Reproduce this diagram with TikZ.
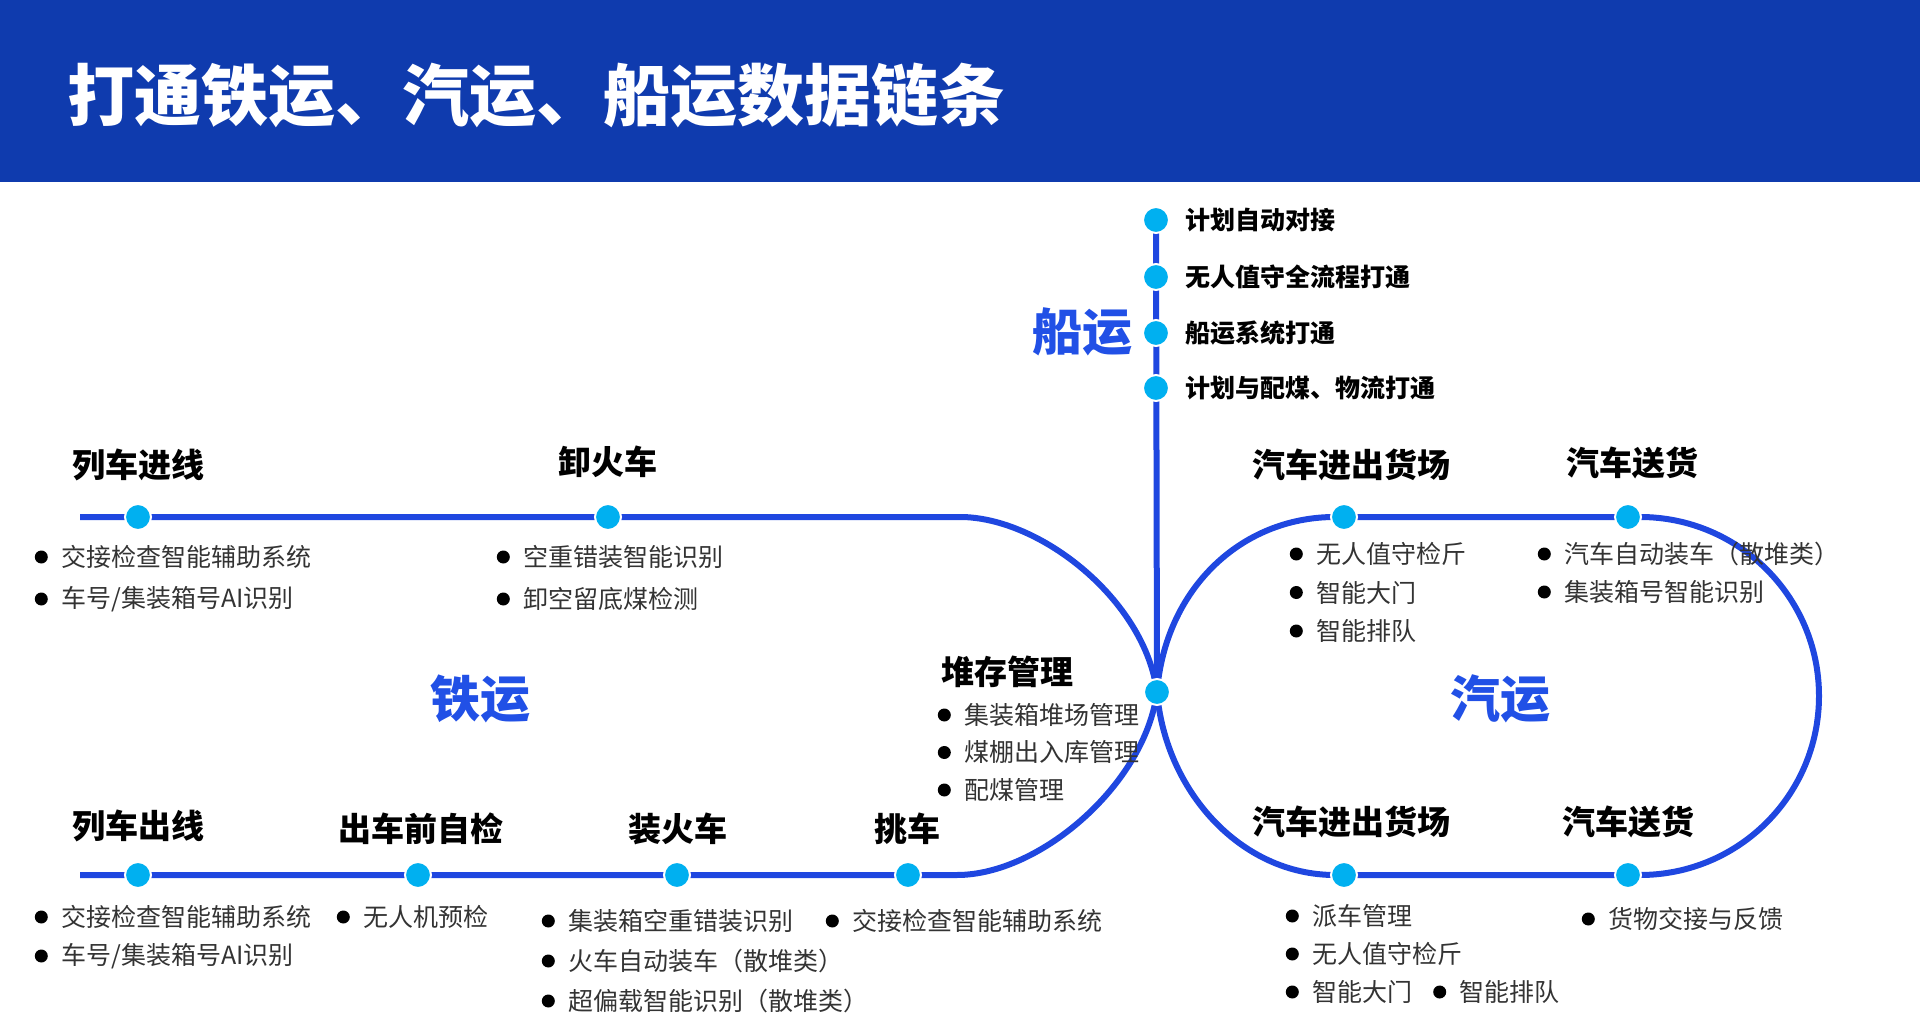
\documentclass[tikz,border=0pt]{standalone}
\usepackage{fontspec}
\setmainfont{Noto Sans CJK SC}
\newfontfamily\heavy{Noto Sans CJK SC Black}
\usetikzlibrary{positioning,backgrounds}

\definecolor{headblue}{HTML}{0F3BAE}
\definecolor{railblue}{HTML}{1F47E0}
\definecolor{dotcyan}{HTML}{00B0F0}
\definecolor{bigblue}{HTML}{2150E6}
\definecolor{itemgray}{HTML}{333333}

\tikzset{
  stopdot/.style={circle, fill=dotcyan, draw=white, line width=2pt, minimum size=26pt, inner sep=0pt},
  track/.style={draw=railblue, line width=6pt},
  stage/.style={font=\fontsize{33}{33}\selectfont\heavy, inner sep=0pt},
  shipitem/.style={font=\fontsize{25}{25}\selectfont\heavy, inner sep=0pt},
  bigname/.style={font=\fontsize{50}{50}\selectfont\heavy, text=bigblue, inner sep=0pt},
  bul/.style={circle, fill=black, minimum size=13pt, inner sep=0pt},
  itm/.style={font=\fontsize{25}{25}\selectfont, text=itemgray, anchor=west, inner sep=0pt,
    label={[bul, label distance=13pt]left:{}}}
}

\begin{document}
\begin{tikzpicture}[x=1pt, y=-1pt]
\useasboundingbox (0,0) rectangle (1920,1024);

% header
\fill[headblue] (0,0) rectangle (1920,182);
\node[anchor=west, text=white, font=\fontsize{67}{67}\selectfont\heavy, inner sep=0pt] (title) at (67,95) {打通铁运、汽运、船运数据链条};

% ship line
\node[stopdot] (ship1) at (1156,220) {};
\node[stopdot] (ship2) at (1156,277) {};
\node[stopdot] (ship3) at (1156,333) {};
\node[stopdot] (ship4) at (1156,388) {};
\node[shipitem, right=15pt of ship1] (shiptxt1) {计划自动对接};
\node[shipitem, right=15pt of ship2] (shiptxt2) {无人值守全流程打通};
\node[shipitem, right=15pt of ship3] (shiptxt3) {船运系统打通};
\node[shipitem, right=15pt of ship4] (shiptxt4) {计划与配煤、物流打通};
\node[bigname] (ship) at (1082,332) {船运};

\node[stopdot] (hub) at (1157,692) {};

% rail
\node[stopdot] (in1) at (138,517) {};
\node[stopdot] (in2) at (608,517) {};
\node[stopdot] (out1) at (138,875) {};
\node[stopdot] (out2) at (418,875) {};
\node[stopdot] (out3) at (677,875) {};
\node[stopdot] (out4) at (908,875) {};
\coordinate (inend) at (80,517);
\coordinate (outend) at (80,875);

\node[stage] (intxt1) at (138,465) {列车进线};
\node[stage] (intxt2) at (608,462) {卸火车};
\node[stage] (outtxt1) at (138,826) {列车出线};
\node[stage] (outtxt2) at (421,829) {出车前自检};
\node[stage] (outtxt3) at (678,829) {装火车};
\node[stage] (outtxt4) at (907,829) {挑车};
\node[stage] (store) at (1007,672) {堆存管理};
\node[bigname] (rail) at (480,699) {铁运};

% road
\node[stopdot] (road1) at (1344,517) {};
\node[stopdot] (road2) at (1628,517) {};
\node[stopdot] (road3) at (1344,875) {};
\node[stopdot] (road4) at (1628,875) {};
\node[stage] (roadtxt1) at (1351,465) {汽车进出货场};
\node[stage] (roadtxt2) at (1632,463) {汽车送货};
\node[stage] (roadtxt3) at (1351,822) {汽车进出货场};
\node[stage] (roadtxt4) at (1628,822) {汽车送货};
\node[bigname] (road) at (1500,699) {汽运};

% items
\foreach \t [count=\i from 0] in {交接检查智能辅助系统, 车号/集装箱号AI识别}
  \node[itm] (ina\i) at (61,{557+42*\i}) {\t};
\foreach \t [count=\i from 0] in {空重错装智能识别, 卸空留底煤检测}
  \node[itm] (inb\i) at (523,{557+42*\i}) {\t};
\foreach \t [count=\i from 0] in {集装箱堆场管理, 煤棚出入库管理, 配煤管理}
  \node[itm] (storea\i) at (964,{715+37.5*\i}) {\t};
\foreach \t [count=\i from 0] in {无人值守检斤, 智能大门, 智能排队}
  \node[itm] (roada\i) at (1316,{554+38.5*\i}) {\t};
\foreach \t [count=\i from 0] in {汽车自动装车（散堆类）, 集装箱号智能识别}
  \node[itm] (roadb\i) at (1564,{554+38*\i}) {\t};
\foreach \t [count=\i from 0] in {交接检查智能辅助系统, 车号/集装箱号AI识别}
  \node[itm] (outa\i) at (61,{917+39*\i}) {\t};
\node[itm] (outb0) at (363,917) {无人机预检};
\foreach \t [count=\i from 0] in {集装箱空重错装识别, 火车自动装车（散堆类）, 超偏载智能识别（散堆类）}
  \node[itm] (outc\i) at (568,{921+40*\i}) {\t};
\node[itm] (outd0) at (852,921) {交接检查智能辅助系统};
\foreach \t [count=\i from 0] in {派车管理, 无人值守检斤, 智能大门}
  \node[itm] (roadc\i) at (1312,{916+38*\i}) {\t};
\node[itm, right=47pt of roadc2] (roadc3) {智能排队};
\node[itm] (roadd0) at (1608,919) {货物交接与反馈};

% tracks
\begin{scope}[on background layer]
\draw[track] (ship1.center) -- (hub.center);
\draw[track] (inend) -- (in1.center) -- (in2.center) -- (960,517)
  .. controls (1040,517) and (1145,600) .. (hub.center)
  .. controls (1145,784) and (1040,875) .. (957,875) -- (out4.center) -- (out1.center) -- (outend);
\draw[track] (hub.center) .. controls (1165,590) and (1240,517) .. (1335,517) -- (road2.center) -- (1640,517)
  arc[start angle=90, end angle=-90, radius=179pt] -- (road4.center) -- (1335,875)
  .. controls (1240,875) and (1165,790) .. (hub.center);
\end{scope}
\end{tikzpicture}
\end{document}
